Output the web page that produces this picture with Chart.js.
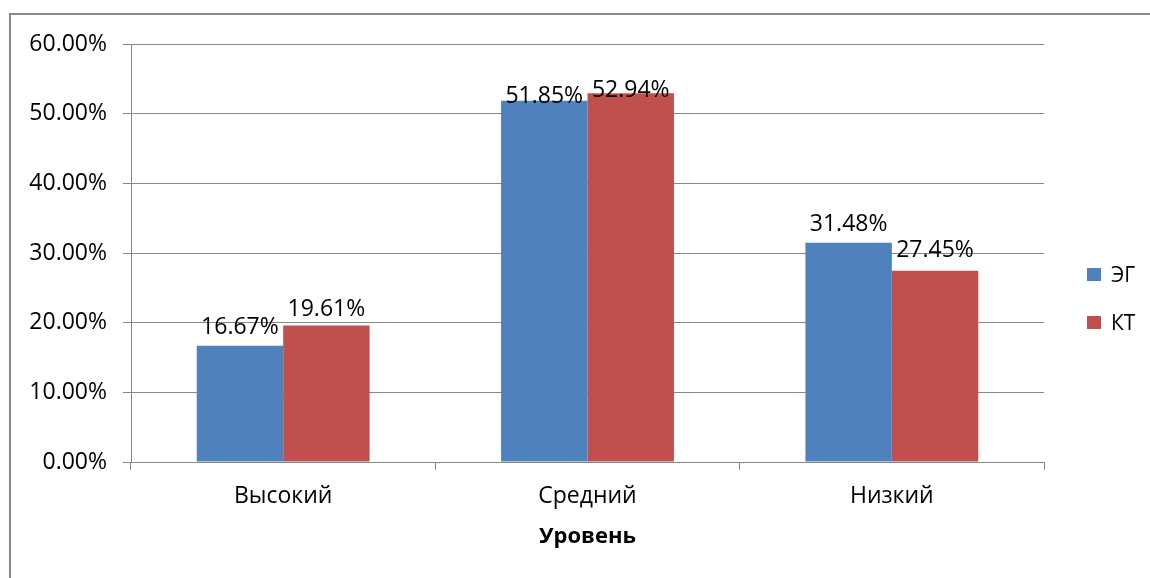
<!DOCTYPE html>
<html lang="ru">
<head>
<meta charset="utf-8">
<title>Уровень</title>
<script src="https://cdn.jsdelivr.net/npm/chart.js@4/dist/chart.umd.min.js"></script>
<style>
  html, body { margin: 0; padding: 0; width: 1150px; height: 578px; overflow: hidden; background: #fff; }
  #frame { position: absolute; left: 9px; top: 13px; width: 2000px; height: 2000px; border: 2px solid #878787; box-sizing: border-box; }
  #c { position: absolute; left: 0; top: 0; }
</style>
</head>
<body>
<div id="frame"></div>
<canvas id="c" width="1150" height="578"></canvas>
<script>
// Категории и значения (в процентах)
const categories = ['Высокий', 'Средний', 'Низкий'];
const seriesNames = ['ЭГ', 'КТ'];
const egValues = [16.67, 51.85, 31.48];
const ktValues = [19.61, 52.94, 27.45];
const yTicks = [0, 10, 20, 30, 40, 50, 60];

const FONT = '"Open Sans", "Liberation Sans", sans-serif';
const GRID = '#868686';

// Подписи значений над столбцами
const valueLabels = {
  id: 'valueLabels',
  afterDatasetsDraw(chart, args, opts) {
    const ctx = chart.ctx;
    ctx.save();
    ctx.font = opts.size + 'px ' + FONT;
    ctx.fillStyle = '#000';
    ctx.textAlign = 'center';
    ctx.textBaseline = 'alphabetic';
    chart.data.datasets.forEach((ds, di) => {
      const meta = chart.getDatasetMeta(di);
      meta.data.forEach((bar, i) => {
        const gap = opts.gaps[di][i];
        ctx.fillText(ds.data[i].toFixed(2) + '%', bar.x, bar.y - gap);
      });
    });
    ctx.restore();
  }
};

// Легенда справа от области построения
const sideLegend = {
  id: 'sideLegend',
  afterDraw(chart, args, opts) {
    const ctx = chart.ctx;
    ctx.save();
    ctx.font = opts.size + 'px ' + FONT;
    ctx.textBaseline = 'alphabetic';
    ctx.textAlign = 'left';
    chart.data.datasets.forEach((ds, di) => {
      const cy = opts.top + di * opts.step;
      ctx.fillStyle = ds.backgroundColor;
      ctx.fillRect(opts.x, cy - 7, 14, 13);
      ctx.fillStyle = '#000';
      ctx.fillText(ds.label, opts.x + 24, cy + 7);
    });
    ctx.restore();
  }
};

new Chart(document.getElementById('c'), {
  type: 'bar',
  data: {
    labels: categories,
    datasets: [
      { label: seriesNames[0], data: egValues, backgroundColor: '#4F81BD' },
      { label: seriesNames[1], data: ktValues, backgroundColor: '#C0504D' }
    ]
  },
  options: {
    responsive: false,
    animation: false,
    devicePixelRatio: 1,
    layout: { padding: { left: 0, top: 44, right: 106, bottom: 0 } },
    datasets: { bar: { categoryPercentage: 0.568, barPercentage: 1.0 } },
    plugins: {
      legend: { display: false },
      tooltip: { enabled: false },
      valueLabels: { size: 23, gaps: [[12, -2, 12], [9, -4, 14]] },
      sideLegend: { size: 21, x: 1087, top: 275, step: 48 }
    },
    scales: {
      x: {
        grid: { display: true, drawOnChartArea: false, drawTicks: true, tickLength: 8, color: GRID, offset: true },
        border: { color: GRID, width: 1 },
        ticks: { color: '#000', font: { family: FONT, size: 23 }, padding: 13, maxRotation: 0 },
        title: { display: true, text: 'Уровень', color: '#000', font: { family: FONT, size: 22, weight: 'bold' }, padding: { top: 8, bottom: 28 } },
        afterFit(scale) { scale.height = 116; }
      },
      y: {
        min: 0, max: 60,
        afterBuildTicks(scale) { scale.ticks = yTicks.map(v => ({ value: v })); },
        grid: { color: GRID, tickLength: 8, drawTicks: true },
        border: { color: GRID, width: 1 },
        ticks: { color: '#000', font: { family: FONT, size: 23 }, padding: 16, callback: v => v.toFixed(2) + '%' },
        afterFit(scale) { scale.width = 131; }
      }
    }
  },
  plugins: [valueLabels, sideLegend]
});
</script>
</body>
</html>
